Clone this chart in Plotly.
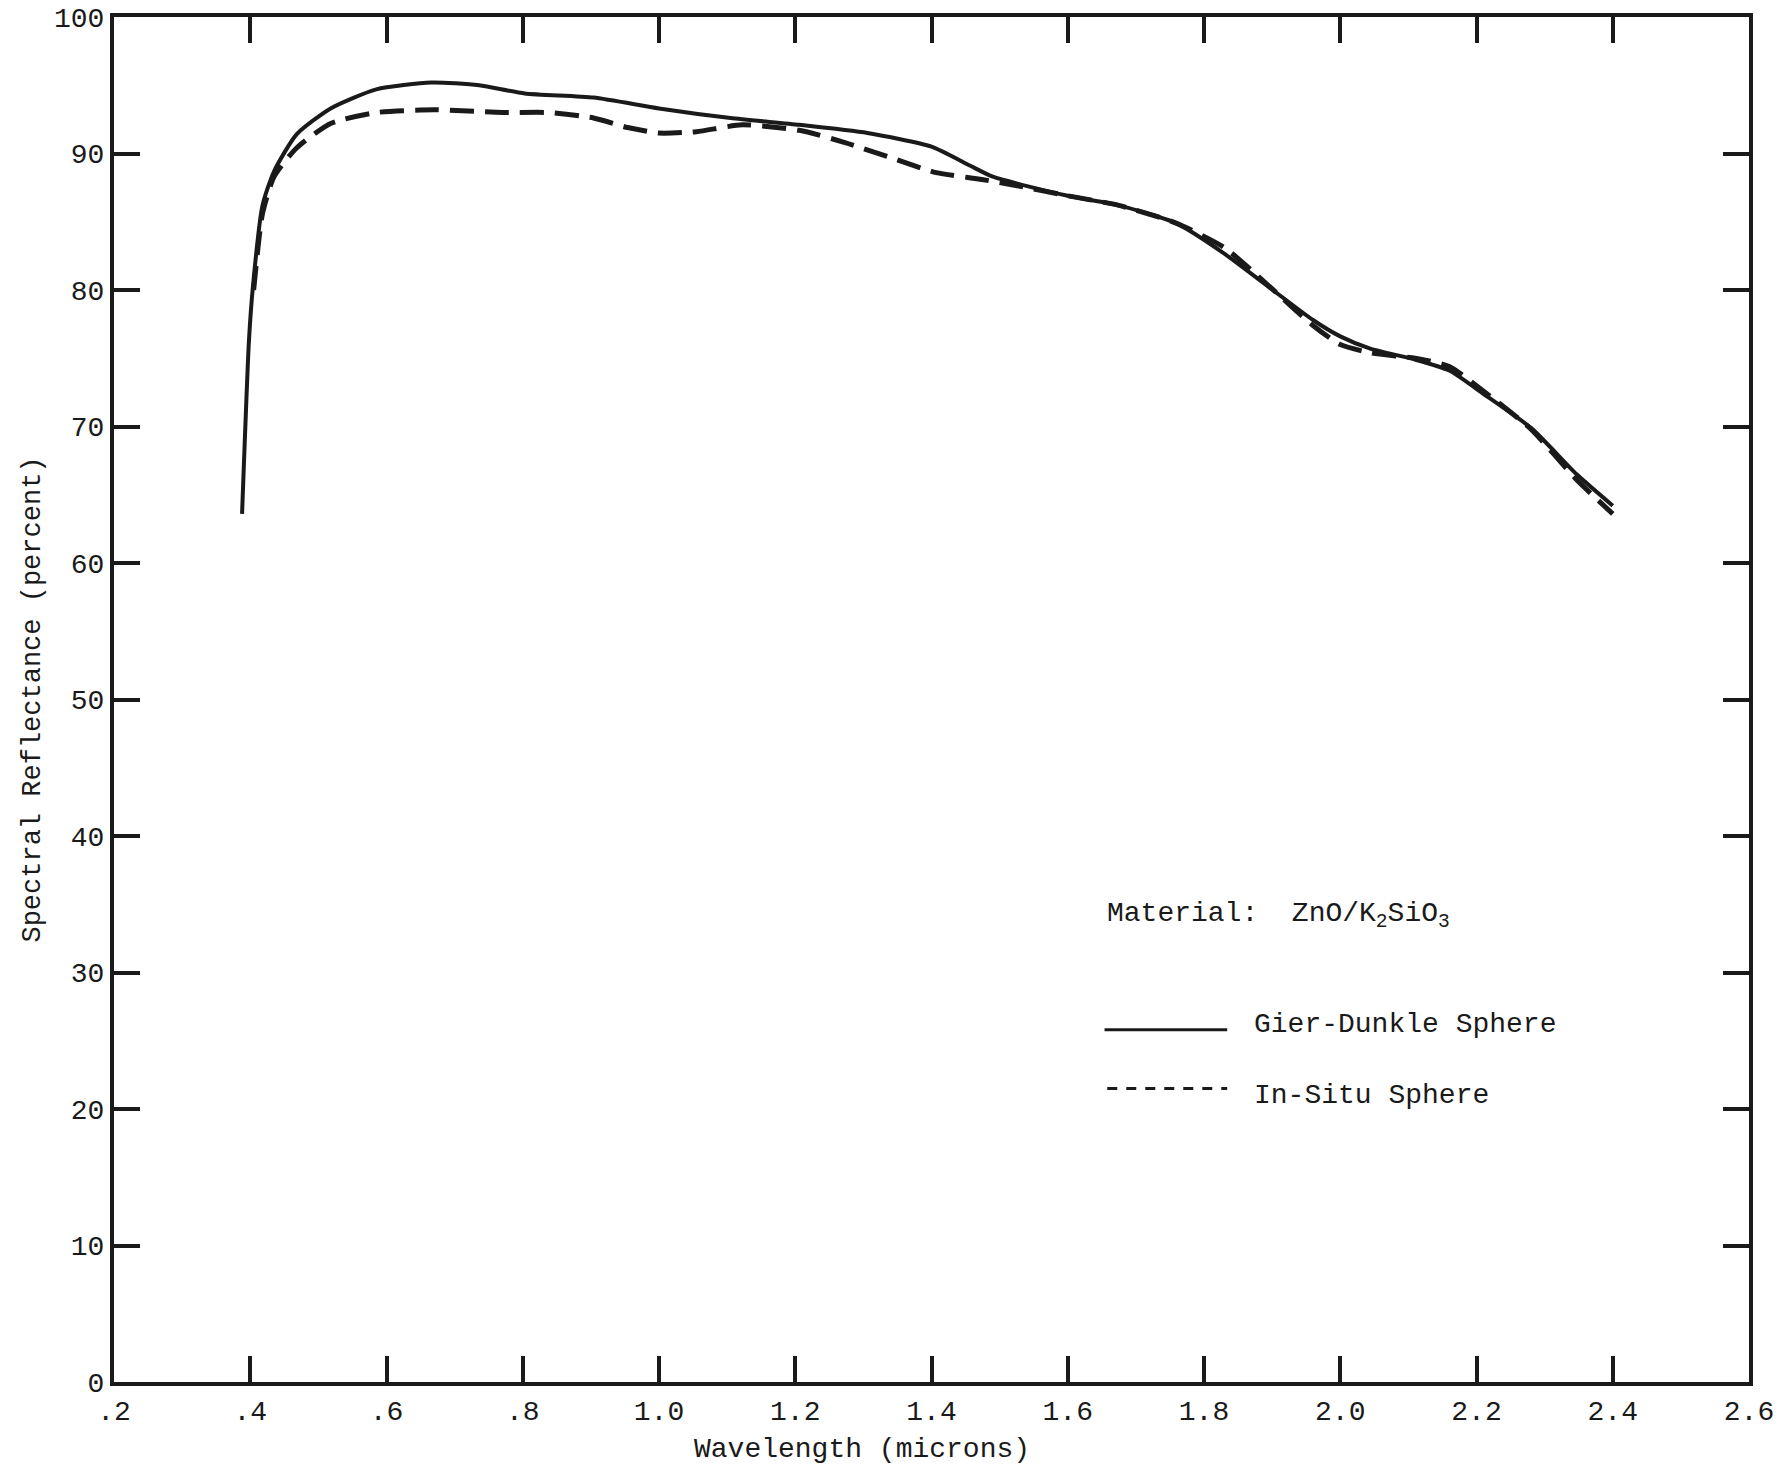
import plotly.graph_objects as go

# Gier-Dunkle Sphere (solid)
gd_wl = [0.388, 0.398, 0.404, 0.418, 0.435, 0.468, 0.518, 0.585, 0.666, 0.736, 0.803, 0.904,
         1.0, 1.105, 1.206, 1.306, 1.40, 1.457, 1.49, 1.60, 1.675, 1.759, 1.826, 1.893,
         1.96, 2.0, 2.044, 2.11, 2.16, 2.21, 2.28, 2.347, 2.40]
gd_refl = [63.6, 76.2, 80.3, 86.2, 88.7, 91.4, 93.3, 94.7, 95.2, 95.0, 94.4, 94.1,
           93.3, 92.6, 92.1, 91.5, 90.5, 89.1, 88.3, 86.9, 86.2, 84.9, 82.8, 80.3,
           77.8, 76.6, 75.7, 74.9, 74.1, 72.4, 69.9, 66.5, 64.2]

# In-Situ Sphere (dashed)
is_wl = [0.405, 0.418, 0.435, 0.468, 0.518, 0.585, 0.67, 0.77, 0.837, 0.904, 0.954,
         1.0, 1.055, 1.122, 1.206, 1.273, 1.34, 1.407, 1.474, 1.53, 1.60, 1.675,
         1.759, 1.83, 1.893, 1.96, 2.0, 2.044, 2.11, 2.16, 2.21, 2.28, 2.347, 2.40]
is_refl = [80.0, 85.6, 88.3, 90.4, 92.2, 93.0, 93.2, 93.0, 93.0, 92.6, 91.9,
           91.5, 91.6, 92.1, 91.7, 90.8, 89.7, 88.6, 88.1, 87.6, 86.9, 86.2,
           84.9, 83.1, 80.4, 77.4, 76.0, 75.4, 75.0, 74.4, 72.6, 69.8, 66.1, 63.6]

x_tickvals = [0.2, 0.4, 0.6, 0.8, 1.0, 1.2, 1.4, 1.6, 1.8, 2.0, 2.2, 2.4, 2.6]
x_ticktext = [".2", ".4", ".6", ".8", "1.0", "1.2", "1.4", "1.6", "1.8", "2.0", "2.2", "2.4", "2.6"]
y_tickvals = [0, 10, 20, 30, 40, 50, 60, 70, 80, 90, 100]

FONT = "Liberation Mono, DejaVu Sans Mono, monospace"
INK = "#1a1a1a"

fig = go.Figure()
fig.add_trace(go.Scatter(x=gd_wl, y=gd_refl, mode="lines", name="Gier-Dunkle Sphere",
                         line=dict(color=INK, width=4, shape="spline", smoothing=0.6),
                         showlegend=False))
fig.add_trace(go.Scatter(x=is_wl, y=is_refl, mode="lines", name="In-Situ Sphere",
                         line=dict(color=INK, width=5, dash="24px,11px", shape="spline", smoothing=0.6),
                         showlegend=False))

fig.update_layout(
    width=1790, height=1466,
    margin=dict(l=114, r=41, t=17, b=84),
    paper_bgcolor="white", plot_bgcolor="white",
    font=dict(family=FONT, size=28, color=INK),
    xaxis=dict(range=[0.2, 2.6], tickvals=x_tickvals, ticktext=x_ticktext,
               ticks="inside", ticklen=26, tickwidth=4, tickcolor=INK,
               showline=True, linewidth=4, linecolor=INK, mirror="allticks",
               showgrid=False, zeroline=False, automargin=False,
               tickfont=dict(family=FONT, size=28, color=INK)),
    yaxis=dict(range=[0, 100], tickvals=y_tickvals,
               ticks="inside", ticklen=26, tickwidth=4, tickcolor=INK,
               showline=True, linewidth=4, linecolor=INK, mirror="allticks",
               showgrid=False, zeroline=False, automargin=False,
               tickfont=dict(family=FONT, size=28, color=INK),
               title=dict(text="Spectral Reflectance (percent)", font=dict(family=FONT, size=27, color=INK), standoff=7)),
)

# x-axis title (typed slightly left of centre in the original)
fig.add_annotation(x=0.4575, y=-0.0498, xref="paper", yref="paper", xanchor="center", yanchor="middle",
                   text="Wavelength (microns)", showarrow=False,
                   font=dict(family=FONT, size=28, color=INK))

# Legend block (drawn as annotation + sample lines)
fig.add_annotation(x=1.655, y=34.2, xref="x", yref="y", xanchor="left", yanchor="middle",
                   text="Material:  ZnO/K<sub>2</sub>SiO<sub>3</sub>", showarrow=False,
                   font=dict(family=FONT, size=28, color=INK))
fig.add_shape(type="line", x0=1.654, x1=1.834, y0=25.8, y1=25.8, xref="x", yref="y",
              line=dict(color=INK, width=3))
fig.add_annotation(x=1.871, y=26.2, xref="x", yref="y", xanchor="left", yanchor="middle",
                   text="Gier-Dunkle Sphere", showarrow=False,
                   font=dict(family=FONT, size=28, color=INK))
fig.add_shape(type="line", x0=1.658, x1=1.834, y0=21.5, y1=21.5, xref="x", yref="y",
              line=dict(color=INK, width=3, dash="10px,9px"))
fig.add_annotation(x=1.871, y=21.0, xref="x", yref="y", xanchor="left", yanchor="middle",
                   text="In-Situ Sphere", showarrow=False,
                   font=dict(family=FONT, size=28, color=INK))

fig.write_html("out.html")
